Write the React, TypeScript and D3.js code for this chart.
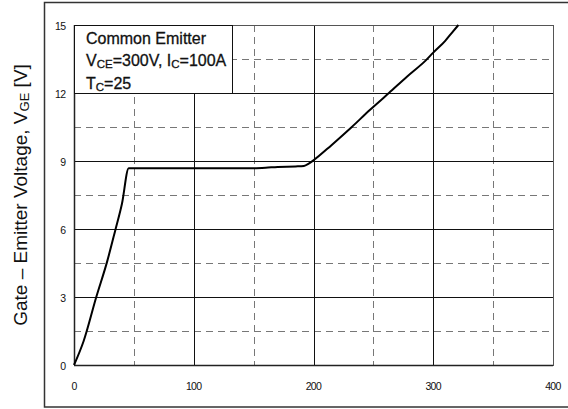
import React from "react";
import * as d3 from "d3";

const xTicks = [0, 100, 200, 300, 400];
const xMinor = [50, 150, 250, 350];
const yTicks = [0, 3, 6, 9, 12, 15];
const yMinor = [1.5, 4.5, 7.5, 10.5, 13.5];

const qg = [0, 8, 18.6, 27.6, 34.5, 40, 45.7, 60, 100, 150, 160, 170, 185, 192, 196, 200, 215, 232, 247, 263, 278, 294, 300, 310, 315, 321];
const vge = [0, 1.05, 3.0, 4.55, 5.95, 7.1, 8.68, 8.68, 8.68, 8.68, 8.7, 8.74, 8.76, 8.78, 8.88, 9.03, 9.7, 10.5, 11.25, 12.0, 12.72, 13.45, 13.78, 14.3, 14.62, 15.0];

const W = 568;
const H = 409;
const L = 74, R = 553, T = 25, B = 365;

export default function App() {
  const x = d3.scaleLinear().domain([0, 400]).range([L, R]);
  const y = d3.scaleLinear().domain([0, 15]).range([B, T]);
  const line = d3
    .line<number>()
    .x((_, i) => x(qg[i]))
    .y((d) => y(d))
    .curve(d3.curveMonotoneX);
  const px = (v: number) => Math.round(v) + 0.5;
  const font = "'Liberation Sans', Arial, sans-serif";

  return (
    <svg
      width={W}
      height={H}
      style={{ position: "absolute", left: 0, top: 0, background: "#fff" }}
      fontFamily={font}
    >
      <rect x={44.5} y={2.5} width={540} height={404.5} fill="none" stroke="#333" strokeWidth={1.5} />
      {/* minor dashed grid */}
      {xMinor.map((v) => (
        <line key={"xm" + v} x1={px(x(v))} x2={px(x(v))} y1={T} y2={B} stroke="#777" strokeWidth={1} strokeDasharray="7,5" />
      ))}
      {yMinor.map((v) => (
        <line key={"ym" + v} x1={L} x2={R} y1={px(y(v))} y2={px(y(v))} stroke="#777" strokeWidth={1} strokeDasharray="7,5" />
      ))}
      {/* major solid grid */}
      {xTicks.slice(1, -1).map((v) => (
        <line key={"xM" + v} x1={px(x(v))} x2={px(x(v))} y1={T} y2={B} stroke="#111" strokeWidth={1} />
      ))}
      {yTicks.slice(1, -1).map((v) => (
        <line key={"yM" + v} x1={L} x2={R} y1={px(y(v))} y2={px(y(v))} stroke="#111" strokeWidth={1} />
      ))}
      <rect x={px(L)} y={px(T)} width={Math.round(R - L)} height={Math.round(B - T)} fill="none" stroke="#555" strokeWidth={1} />
      <line x1={L} x2={R} y1={px(B)} y2={px(B)} stroke="#222" strokeWidth={1.5} />
      <line x1={px(L)} x2={px(L)} y1={T} y2={B} stroke="#222" strokeWidth={1.5} />

      {/* curve */}
      <path d={line(vge) || ""} fill="none" stroke="#000" strokeWidth={2} />

      {/* legend box */}
      <rect x={px(L)} y={px(T)} width={158} height={Math.round(y(12) - T)} fill="#fff" stroke="#111" strokeWidth={1} />
      <g fontSize={16} fill="#111" stroke="#111" strokeWidth={0.3}>
        <text x={86} y={43.5}>Common Emitter</text>
        <text x={86} y={65.5}>
          V<tspan fontSize={11.5} dy={2}>CE</tspan>
          <tspan dy={-2}>=300V, I</tspan>
          <tspan fontSize={11.5} dy={2}>C</tspan>
          <tspan dy={-2}>=100A</tspan>
        </text>
        <text x={86} y={88.5}>
          T<tspan fontSize={11.5} dy={2}>C</tspan>
          <tspan dy={-2}>=25</tspan>
        </text>
      </g>

      {/* tick labels */}
      <g fontSize={10.5} fill="#111" letterSpacing={-0.6}>
        {xTicks.map((v) => (
          <text key={"xt" + v} x={x(v)} y={390} textAnchor="middle">
            {v}
          </text>
        ))}
        {yTicks.map((v) => (
          <text key={"yt" + v} x={65.5} y={y(v) + 5} textAnchor="end">
            {v}
          </text>
        ))}
      </g>

      {/* y axis title */}
      <text
        transform={`translate(26.5,195) rotate(-90)`}
        textAnchor="middle"
        fontSize={19}
        fill="#111"
      >
        Gate – Emitter Voltage, V<tspan fontSize={13} dy={2}>GE</tspan>
        <tspan dy={-2}> [V]</tspan>
      </text>
    </svg>
  );
}
